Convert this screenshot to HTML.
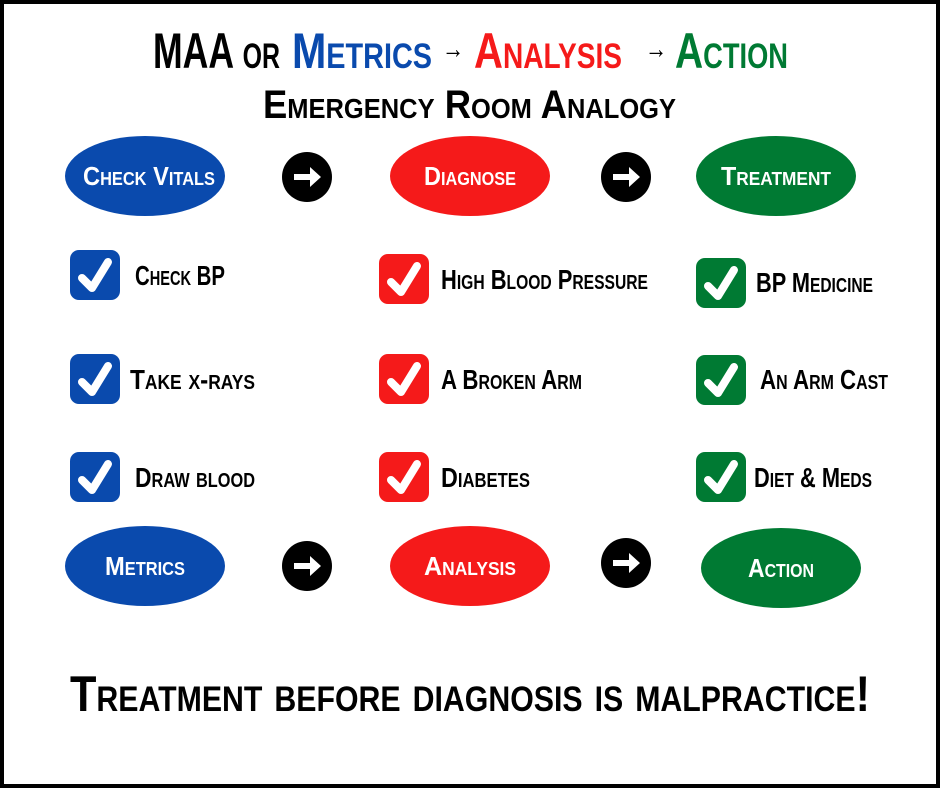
<!DOCTYPE html>
<html><head><meta charset="utf-8"><style>
html,body{margin:0;padding:0;background:#fff}
svg{display:block}
text{font-family:"Liberation Sans",sans-serif;font-weight:bold;font-variant:small-caps;}
</style></head><body>
<svg width="940" height="788" viewBox="0 0 940 788" xmlns="http://www.w3.org/2000/svg">
<defs>
<g id="arr"><circle r="25" fill="#000"/><path d="M-13,-3 H3 V-10 L14,0 L3,10 V3 H-13 Z" fill="#fff"/></g>
<path id="tick" d="M12,28 L22,38 L38,12" fill="none" stroke="#fff" stroke-width="8" stroke-linecap="round" stroke-linejoin="round"/>
</defs>
<rect x="2" y="2" width="936" height="784" fill="#fff" stroke="#000" stroke-width="4"/>
<g font-size="50">
<text x="153" y="68" fill="#000" textLength="127" lengthAdjust="spacingAndGlyphs">MAA or</text>
<text x="292" y="68" fill="#0a4aad" textLength="140" lengthAdjust="spacingAndGlyphs">Metrics</text>
<text x="442" y="58" fill="#000" font-size="28" textLength="22" lengthAdjust="spacingAndGlyphs">→</text>
<text x="474" y="68" fill="#f51a1a" textLength="148" lengthAdjust="spacingAndGlyphs">Analysis</text>
<text x="645" y="58" fill="#000" font-size="28" textLength="22" lengthAdjust="spacingAndGlyphs">→</text>
<text x="675" y="68" fill="#007a33" textLength="113" lengthAdjust="spacingAndGlyphs">Action</text>
</g>
<text x="263" y="118" font-size="40" textLength="413" lengthAdjust="spacingAndGlyphs" fill="#000">Emergency Room Analogy</text>

<g font-size="26" fill="#fff" text-anchor="middle">
<ellipse cx="145" cy="176" rx="80" ry="40" fill="#0a4aad"/>
<text x="149" y="185" textLength="132" lengthAdjust="spacingAndGlyphs">Check Vitals</text>
<ellipse cx="470" cy="176" rx="80" ry="40" fill="#f51a1a"/>
<text x="470" y="185" textLength="92" lengthAdjust="spacingAndGlyphs">Diagnose</text>
<ellipse cx="776" cy="176" rx="80" ry="40" fill="#007a33"/>
<text x="776" y="185" textLength="110" lengthAdjust="spacingAndGlyphs">Treatment</text>
<ellipse cx="145" cy="566" rx="80" ry="40" fill="#0a4aad"/>
<text x="145" y="575" textLength="80" lengthAdjust="spacingAndGlyphs">Metrics</text>
<ellipse cx="470" cy="566" rx="80" ry="40" fill="#f51a1a"/>
<text x="470" y="575" textLength="92" lengthAdjust="spacingAndGlyphs">Analysis</text>
<ellipse cx="781" cy="568" rx="80" ry="40" fill="#007a33"/>
<text x="781" y="577" textLength="66" lengthAdjust="spacingAndGlyphs">Action</text>
</g>
<use href="#arr" x="307" y="177"/>
<use href="#arr" x="626" y="177"/>
<use href="#arr" x="307" y="566"/>
<use href="#arr" x="626" y="563"/>

<g>
<rect x="70" y="250" width="50" height="50" rx="9" fill="#0a4aad"/><use href="#tick" x="70" y="250"/>
<rect x="70" y="354" width="50" height="50" rx="9" fill="#0a4aad"/><use href="#tick" x="70" y="354"/>
<rect x="70" y="452" width="50" height="50" rx="9" fill="#0a4aad"/><use href="#tick" x="70" y="452"/>
<rect x="379" y="254" width="50" height="50" rx="9" fill="#f51a1a"/><use href="#tick" x="379" y="254"/>
<rect x="379" y="354" width="50" height="50" rx="9" fill="#f51a1a"/><use href="#tick" x="379" y="354"/>
<rect x="379" y="452" width="50" height="50" rx="9" fill="#f51a1a"/><use href="#tick" x="379" y="452"/>
<rect x="696" y="258" width="50" height="50" rx="9" fill="#007a33"/><use href="#tick" x="696" y="258"/>
<rect x="696" y="355" width="50" height="50" rx="9" fill="#007a33"/><use href="#tick" x="696" y="355"/>
<rect x="696" y="452" width="50" height="50" rx="9" fill="#007a33"/><use href="#tick" x="696" y="452"/>
</g>
<g font-size="28" fill="#000">
<text x="135" y="285" textLength="90" lengthAdjust="spacingAndGlyphs">Check BP</text>
<text x="130" y="389" textLength="125" lengthAdjust="spacingAndGlyphs">Take x-rays</text>
<text x="135" y="487" textLength="120" lengthAdjust="spacingAndGlyphs">Draw blood</text>
<text x="441" y="289" textLength="207" lengthAdjust="spacingAndGlyphs">High Blood Pressure</text>
<text x="441" y="389" textLength="141" lengthAdjust="spacingAndGlyphs">A Broken Arm</text>
<text x="441" y="487" textLength="89" lengthAdjust="spacingAndGlyphs">Diabetes</text>
<text x="756" y="292" textLength="117" lengthAdjust="spacingAndGlyphs">BP Medicine</text>
<text x="760" y="389" textLength="128" lengthAdjust="spacingAndGlyphs">An Arm Cast</text>
<text x="754" y="487" textLength="118" lengthAdjust="spacingAndGlyphs">Diet &amp; Meds</text>
</g>
<text x="70" y="711" font-size="50" textLength="800" lengthAdjust="spacingAndGlyphs" fill="#000">Treatment before diagnosis is malpractice!</text>
</svg>
</body></html>
